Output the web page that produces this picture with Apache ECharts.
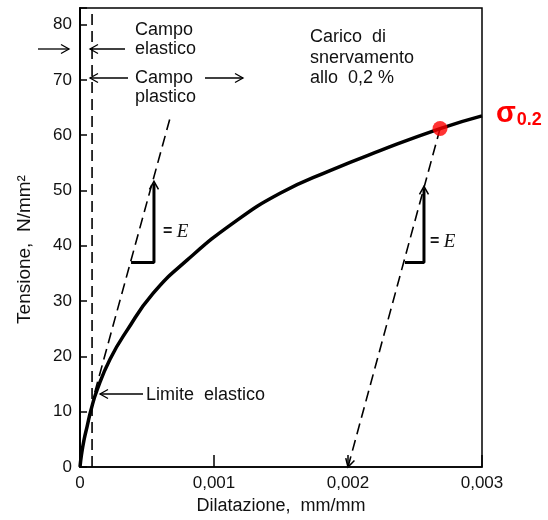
<!DOCTYPE html>
<html>
<head>
<meta charset="utf-8">
<script src="https://cdn.jsdelivr.net/npm/echarts@6/dist/echarts.min.js"></script>
<style>
  html, body { margin: 0; padding: 0; background: #fff; }
  #chart { width: 548px; height: 520px; }
</style>
</head>
<body>
<div id="chart"></div>
<script>
// curva tensione - dilatazione
var strain = [0, 0.000011, 0.00003, 0.000052, 0.000082, 0.000127, 0.000224, 0.000351, 0.000545,
              0.000799, 0.001142, 0.001493, 0.001866, 0.002239, 0.002687, 0.003];
var stress = [0, 2.2, 4.9, 7.2, 10.3, 13.9, 19.5, 24.7, 31.4,
              37.4, 44.1, 49.5, 53.6, 57.2, 61.2, 63.5];

// limite campo elastico (verticale tratteggiata)
var limitX = [0.00009, 0.00009];
var limitY = [0, 82];

// retta elastica (pendenza E)
var elasticX = [0.00011, 0.00068];
var elasticY = [13.5, 63.8];

// retta parallela spostata dello 0,2%
var offsetX = [0.002, 0.002687];
var offsetY = [0, 61.2];

// triangolini "= E"
var tri1X = [0.000381, 0.000552, 0.000552];
var tri1Y = [37.0, 37.0, 51.3];
var tri2X = [0.002425, 0.002567, 0.002567];
var tri2Y = [37.0, 37.0, 50.4];

// punto di snervamento sigma 0.2
var yieldPoint = [0.002687, 61.2];

var xTicks = [0, 0.001, 0.002, 0.003];
var yTicks = [0, 10, 20, 30, 40, 50, 60, 70, 80];

function zip(xs, ys) {
  var out = [];
  for (var i = 0; i < xs.length; i++) out.push([xs[i], ys[i]]);
  return out;
}

var FONT = '"Liberation Sans", Arial, sans-serif';
var chart = echarts.init(document.getElementById('chart'));

var dashStyle = { color: '#000', width: 1.6, type: [11, 6] };

chart.setOption({
  animation: false,
  grid: {
    left: 80, right: 66, top: 8, bottom: 53,
    show: true, borderColor: '#000', borderWidth: 1.5
  },
  xAxis: {
    type: 'value',
    min: 0, max: 0.003, interval: 0.001,
    name: 'Dilatazione,  mm/mm',
    nameLocation: 'middle',
    nameGap: 29,
    nameTextStyle: { fontFamily: FONT, fontSize: 18, color: '#111' },
    axisLine: { lineStyle: { color: '#000', width: 1.5 } },
    axisTick: { inside: true, length: 12, lineStyle: { color: '#000', width: 1.5 } },
    splitLine: { show: false },
    axisLabel: {
      fontFamily: FONT, fontSize: 17, color: '#111', margin: 8,
      formatter: function (v) {
        if (xTicks.indexOf(v) < 0) return '';
        return v === 0 ? '0' : v.toFixed(3).replace('.', ',');
      }
    }
  },
  yAxis: {
    type: 'value',
    min: 0, max: 83, interval: 10,
    name: 'Tensione,  N/mm²',
    nameLocation: 'middle',
    nameGap: 46,
    nameTextStyle: { fontFamily: FONT, fontSize: 19, color: '#111', padding: [0, 0, 0, -24] },
    axisLine: { lineStyle: { color: '#000', width: 2 } },
    axisTick: { inside: true, length: 7, lineStyle: { color: '#000', width: 1.5 } },
    splitLine: { show: false },
    axisLabel: {
      fontFamily: FONT, fontSize: 17, color: '#111', margin: 8,
      formatter: function (v) { return yTicks.indexOf(v) < 0 ? '' : String(v); }
    }
  },
  series: [
    {
      name: 'curva', type: 'line', data: zip(strain, stress),
      smooth: 0.5, showSymbol: false,
      lineStyle: { color: '#000', width: 3.5 }, z: 5
    },
    { type: 'line', data: zip(limitX, limitY), showSymbol: false, lineStyle: dashStyle },
    { type: 'line', data: zip(elasticX, elasticY), showSymbol: false, lineStyle: dashStyle },
    { type: 'line', data: zip(offsetX, offsetY), showSymbol: false, lineStyle: dashStyle },
    { type: 'line', data: zip(tri1X, tri1Y), showSymbol: false, lineStyle: { color: '#000', width: 3 } },
    { type: 'line', data: zip(tri2X, tri2Y), showSymbol: false, lineStyle: { color: '#000', width: 3 } },
    {
      type: 'scatter', data: [yieldPoint], symbolSize: 15,
      itemStyle: { color: '#ff0000' }, z: 10
    }
  ]
});

// frecce aperte (linea + punta a V)
function arrow(x1, y1, x2, y2, w) {
  var dx = x2 - x1, dy = y2 - y1;
  var L = Math.sqrt(dx * dx + dy * dy);
  var ux = dx / L, uy = dy / L;
  var hl = 8, hw = 4.5;
  var bx = x2 - ux * hl, by = y2 - uy * hl;
  return [
    { type: 'line', shape: { x1: x1, y1: y1, x2: x2, y2: y2 }, style: { stroke: '#000', lineWidth: w || 1.3 } },
    {
      type: 'polyline',
      shape: { points: [[bx - uy * hw, by + ux * hw], [x2, y2], [bx + uy * hw, by - ux * hw]] },
      style: { stroke: '#000', lineWidth: w || 1.3, fill: null }
    }
  ];
}

function txt(x, y, s, size) {
  return {
    type: 'text', x: x, y: y,
    style: { text: s, fontFamily: FONT, fontSize: size || 18, fill: '#111', verticalAlign: 'middle' }
  };
}

function eLabel(x, y) {
  return {
    type: 'text', x: x, y: y,
    style: {
      text: '{a|= }{b|E}', verticalAlign: 'middle',
      rich: {
        a: { fontFamily: FONT, fontSize: 16, fontWeight: 'bold', fill: '#111' },
        b: { fontFamily: '"Liberation Serif", "DejaVu Serif", serif', fontSize: 19, fontStyle: 'italic', fill: '#111' }
      }
    }
  };
}

var g = [];
g = g.concat(arrow(38, 49, 69, 49));
g = g.concat(arrow(125, 49, 90, 49));
g = g.concat(arrow(128, 78, 90, 78));
g = g.concat(arrow(205, 78, 243, 78));
g = g.concat(arrow(143, 394, 100, 394));

// punte sulle rette tratteggiate e sui triangoli
var pTop = chart.convertToPixel({ gridIndex: 0 }, yieldPoint);
var pBot = chart.convertToPixel({ gridIndex: 0 }, [offsetX[0], offsetY[0]]);
g = g.concat(arrow(pTop[0], pTop[1], pBot[0], pBot[1], 1.5).slice(1));
var t1 = chart.convertToPixel({ gridIndex: 0 }, [tri1X[2], tri1Y[2]]);
var t2 = chart.convertToPixel({ gridIndex: 0 }, [tri2X[2], tri2Y[2]]);
g = g.concat(arrow(t1[0], t1[1] + 20, t1[0], t1[1] - 2, 1.5).slice(1));
g = g.concat(arrow(t2[0], t2[1] + 20, t2[0], t2[1] - 2, 1.5).slice(1));

g.push(txt(135, 30, 'Campo'));
g.push(txt(135, 49, 'elastico'));
g.push(txt(135, 78, 'Campo'));
g.push(txt(135, 97, 'plastico'));
g.push(txt(310, 37, 'Carico  di'));
g.push(txt(310, 58, 'snervamento'));
g.push(txt(310, 78, 'allo  0,2 %'));
g.push(txt(146, 395, 'Limite  elastico'));
g.push(eLabel(163, 232));
g.push(eLabel(430, 242));

g.push({
  type: 'text', x: 496, y: 114,
  style: {
    text: '{s|σ}{n|0.2}', verticalAlign: 'middle',
    rich: {
      s: { fontFamily: '"Liberation Sans", sans-serif', fontSize: 29, fontWeight: 'bold', fill: '#ff0000' },
      n: { fontFamily: '"Liberation Sans", sans-serif', fontSize: 18, fontWeight: 'bold', fill: '#ff0000', padding: [12, 0, 0, 1] }
    }
  }
});

chart.setOption({ graphic: g });
</script>
</body>
</html>
